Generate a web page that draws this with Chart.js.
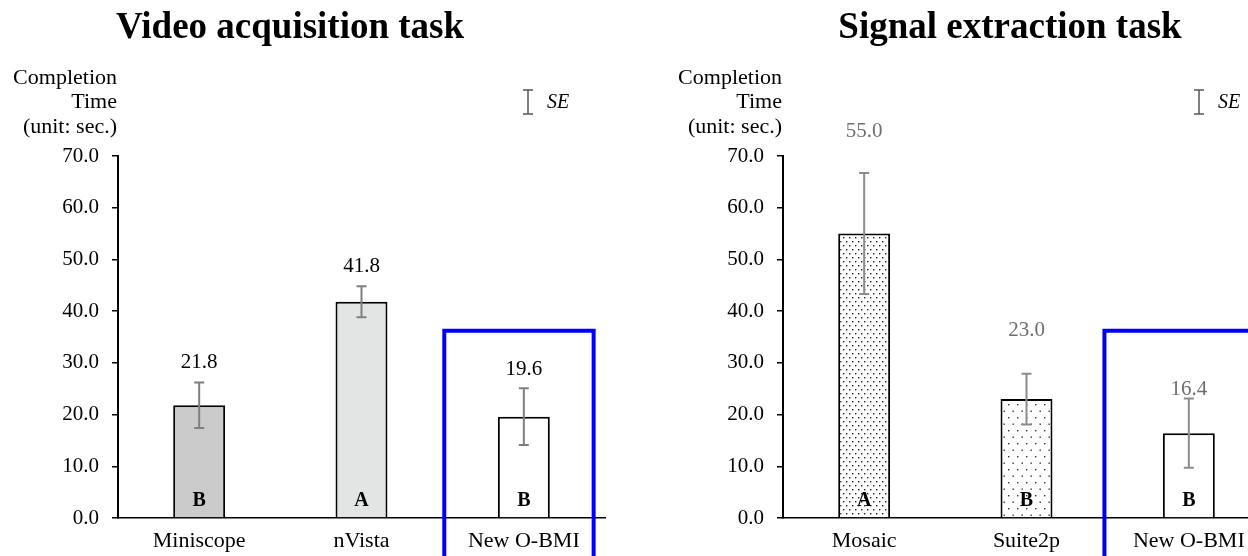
<!DOCTYPE html>
<html>
<head>
<meta charset="utf-8">
<script src="https://cdn.jsdelivr.net/npm/chart.js@4.4.1/dist/chart.umd.min.js"></script>
<style>
  html, body { margin: 0; padding: 0; width: 1248px; height: 556px; overflow: hidden; background: #fff; }
  .wrap { position: absolute; top: 0; width: 640px; height: 556px; }
  #w1 { left: 0px; }
  #w2 { left: 665px; }
</style>
</head>
<body>
<div class="wrap" id="w1"><canvas id="c1" width="640" height="556"></canvas></div>
<div class="wrap" id="w2"><canvas id="c2" width="640" height="556"></canvas></div>
<script>
// ---- data ----
const categoriesVideo = ['Miniscope', 'nVista', 'New O-BMI'];
const valuesVideo = [21.8, 41.8, 19.6];
const seVideo = [4.4, 3.0, 5.5];
const lettersVideo = ['B', 'A', 'B'];

const categoriesSignal = ['Mosaic', 'Suite2p', 'New O-BMI'];
const valuesSignal = [55.0, 23.0, 16.4];
const seSignal = [11.7, 4.9, 6.7];
const lettersSignal = ['A', 'B', 'B'];

const yTickValues = [0, 10, 20, 30, 40, 50, 60, 70];
const axisTitleLines = ['Completion', 'Time', '(unit: sec.)'];
const highlightTop = 36.2;

const SERIF = '"Liberation Serif", "Times New Roman", serif';

function makeDots(w, h, pts, color) {
  const c = document.createElement('canvas');
  c.width = w; c.height = h;
  const g = c.getContext('2d');
  g.fillStyle = '#fff';
  g.fillRect(0, 0, w, h);
  g.fillStyle = color;
  pts.forEach(p => g.fillRect(p[0], p[1], 1.4, 1.4));
  return g.createPattern(c, 'repeat');
}

const denseDots = makeDots(6, 8, [[1, 1], [4, 5]], '#222');
const sparseDots = makeDots(9, 13, [[1, 1], [5.5, 7.5]], '#333');

const overlay = {
  id: 'overlay',
  afterDatasetsDraw(chart) {
    const o = chart.options.plugins.overlay;
    const ctx = chart.ctx;
    const ys = chart.scales.y;
    const meta = chart.getDatasetMeta(0);
    const vals = chart.data.datasets[0].data;
    ctx.save();
    vals.forEach((v, i) => {
      const x = meta.data[i].x;
      const yt = ys.getPixelForValue(v + o.se[i]);
      const yb = ys.getPixelForValue(v - o.se[i]);
      ctx.strokeStyle = o.errColor;
      ctx.lineWidth = 2;
      ctx.beginPath();
      ctx.moveTo(x, yt); ctx.lineTo(x, yb);
      ctx.moveTo(x - 5, yt); ctx.lineTo(x + 5, yt);
      ctx.moveTo(x - 5, yb); ctx.lineTo(x + 5, yb);
      ctx.stroke();
      ctx.fillStyle = o.labelColor;
      ctx.font = '21px ' + SERIF;
      ctx.textAlign = 'center';
      ctx.textBaseline = 'middle';
      ctx.fillText(v.toFixed(1), x, yt - o.labelOffset[i]);
      ctx.fillStyle = '#000';
      ctx.font = 'bold 20px ' + SERIF;
      ctx.fillText(o.letters[i], x, ys.getPixelForValue(0) - 17);
    });
    ctx.restore();
  },
  afterDraw(chart) {
    const o = chart.options.plugins.overlay;
    const ctx = chart.ctx;
    const xs = chart.scales.x, ys = chart.scales.y;
    const area = chart.chartArea;
    ctx.save();
    ctx.fillStyle = '#000';
    ctx.font = 'bold 37px ' + SERIF;
    ctx.textAlign = 'center';
    ctx.textBaseline = 'middle';
    ctx.fillText(o.title, o.titleX, 28);
    ctx.font = '22px ' + SERIF;
    ctx.textAlign = 'right';
    const ly = [78, 102, 127];
    axisTitleLines.forEach((t, i) => ctx.fillText(t, area.left - 1, ly[i]));
    const gx = area.left + o.seX;
    ctx.strokeStyle = '#555';
    ctx.lineWidth = 1.5;
    ctx.beginPath();
    ctx.moveTo(gx, 90); ctx.lineTo(gx, 114);
    ctx.moveTo(gx - 5, 90); ctx.lineTo(gx + 5, 90);
    ctx.moveTo(gx - 5, 114); ctx.lineTo(gx + 5, 114);
    ctx.stroke();
    ctx.fillStyle = '#000';
    ctx.font = 'italic 20px ' + SERIF;
    ctx.textAlign = 'left';
    ctx.fillText('SE', gx + 19, 103);
    const n = chart.data.labels.length;
    const cw = (area.right - area.left) / n;
    const cx = xs.getPixelForValue(n - 1);
    const top = ys.getPixelForValue(highlightTop);
    ctx.strokeStyle = '#0000ff';
    ctx.lineWidth = 4;
    ctx.beginPath();
    ctx.moveTo(cx + o.boxL * cw, chart.height + 10);
    ctx.lineTo(cx + o.boxL * cw, top);
    ctx.lineTo(cx + o.boxR * cw, top);
    ctx.lineTo(cx + o.boxR * cw, chart.height + 10);
    ctx.stroke();
    ctx.restore();
  }
};

function build(id, cats, vals, fills, opts) {
  return new Chart(document.getElementById(id), {
    type: 'bar',
    data: {
      labels: cats,
      datasets: [{
        data: vals,
        backgroundColor: fills,
        borderColor: '#000',
        borderWidth: 2,
        borderSkipped: 'bottom',
        categoryPercentage: 1,
        barPercentage: 0.32
      }]
    },
    plugins: [overlay],
    options: {
      responsive: false,
      animation: false,
      layout: { padding: { left: 0, right: 35, top: 156, bottom: 0 } },
      plugins: {
        legend: { display: false },
        tooltip: { enabled: false },
        title: { display: false },
        overlay: opts
      },
      scales: {
        x: {
          afterFit(s) { s.height = 38; },
          grid: { display: false, drawTicks: false },
          border: { display: true, color: '#000', width: 1.5 },
          ticks: { color: '#000', font: { family: SERIF, size: 22 }, padding: 10, maxRotation: 0, autoSkip: false }
        },
        y: {
          min: 0, max: 70,
          afterFit(s) { s.width = 118; },
          afterBuildTicks(s) { s.ticks = yTickValues.map(v => ({ value: v })); },
          grid: { drawOnChartArea: false, drawTicks: true, tickLength: 6, color: '#000', lineWidth: 1.5 },
          border: { display: true, color: '#000', width: 2 },
          ticks: { color: '#000', font: { family: SERIF, size: 21 }, padding: 13, callback: v => Number(v).toFixed(1) }
        }
      }
    }
  });
}

build('c1', categoriesVideo, valuesVideo, ['#cbcbcb', '#e3e4e4', '#ffffff'], {
  se: seVideo, letters: lettersVideo, labelColor: '#000', errColor: '#7f7f7f',
  labelOffset: [20, 20, 19], title: 'Video acquisition task', titleX: 290,
  seX: 410, boxL: -0.49, boxR: 0.43
});
build('c2', categoriesSignal, valuesSignal, [denseDots, sparseDots, '#ffffff'], {
  se: seSignal, letters: lettersSignal, labelColor: '#6e6e6e', errColor: '#8c8c8c',
  labelOffset: [42, 43, 9], title: 'Signal extraction task', titleX: 345,
  seX: 416, boxL: -0.52, boxR: 0.6
});
</script>
</body>
</html>
